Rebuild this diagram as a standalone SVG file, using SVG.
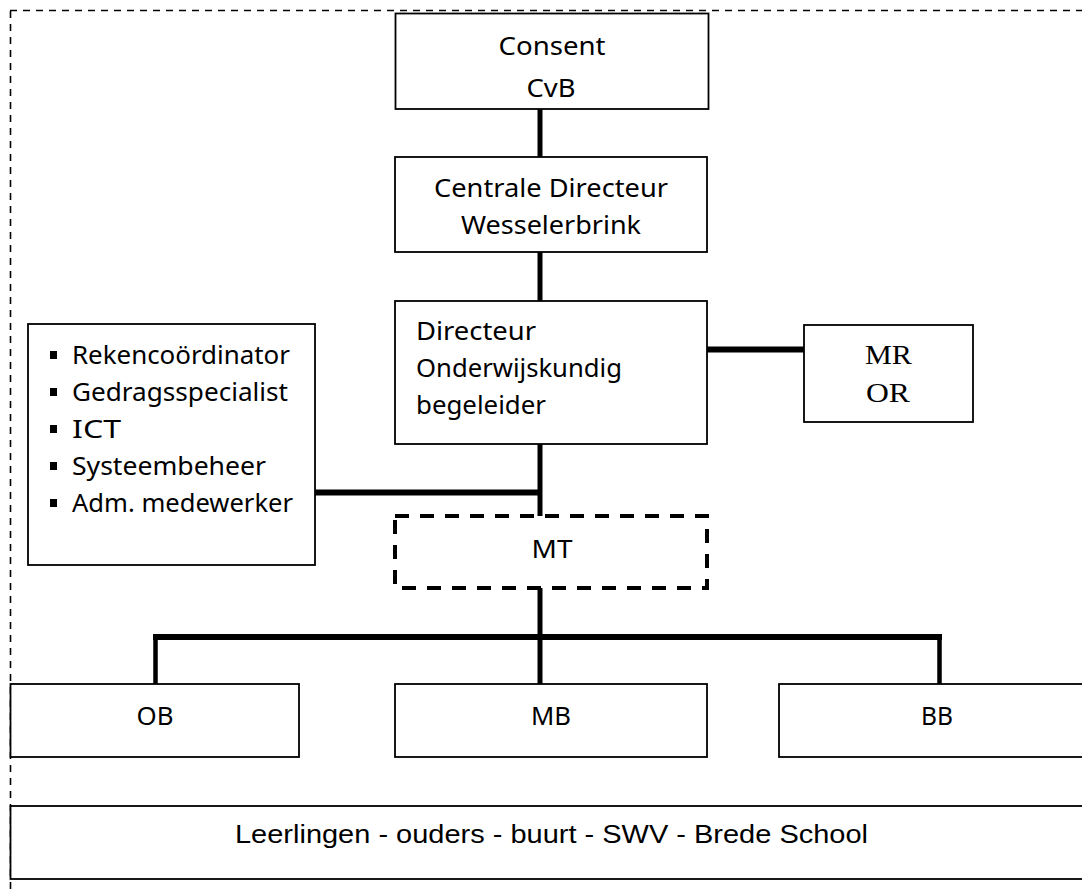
<svg xmlns="http://www.w3.org/2000/svg" width="1082" height="895" viewBox="0 0 1082 895">
<style>
.box{fill:#fff;stroke:#000;stroke-width:1.8}
.mt{fill:#fff;stroke:#000;stroke-width:4;stroke-dasharray:14 11}
.frame{fill:none;stroke:#000;stroke-width:1.6;stroke-dasharray:7 6}
.con{stroke:#000;fill:none}
.c{font-family:"Noto Sans","DejaVu Sans",sans-serif;font-size:26px;fill:#000}
.m{text-anchor:middle}
.s{font-family:"Liberation Serif","Times New Roman",serif;font-size:27px;fill:#000;text-anchor:middle}
.a{font-family:"Liberation Sans",Arial,sans-serif;font-size:26px;fill:#000;text-anchor:middle}
</style>
<rect width="1082" height="895" fill="#fff"/>
<g id="frame">
<line class="frame" x1="10" y1="10.5" x2="1082" y2="10.5"/>
<line class="frame" x1="10.5" y1="11" x2="10.5" y2="895"/>
</g>
<g id="connectors">
<line class="con" stroke-width="5" x1="540" y1="109" x2="540" y2="157"/>
<line class="con" stroke-width="5" x1="540" y1="252" x2="540" y2="301"/>
<line class="con" stroke-width="5" x1="540" y1="444" x2="540" y2="516"/>
<line class="con" stroke-width="6" x1="707" y1="349.5" x2="804" y2="349.5"/>
<line class="con" stroke-width="6" x1="315" y1="492.5" x2="542" y2="492.5"/>
<line class="con" stroke-width="5" x1="540" y1="588" x2="540" y2="684"/>
<line class="con" stroke-width="6" x1="153" y1="637" x2="942" y2="637"/>
<line class="con" stroke-width="4.5" x1="155.5" y1="637" x2="155.5" y2="684"/>
<line class="con" stroke-width="4.5" x1="939.5" y1="637" x2="939.5" y2="684"/>
</g>
<g id="consent">
<rect class="box" x="395.5" y="13.5" width="313" height="95.5"/>
<text class="c m" x="552" y="55" textLength="107" lengthAdjust="spacingAndGlyphs">Consent</text>
<text class="c m" x="551" y="97" textLength="49" lengthAdjust="spacingAndGlyphs">CvB</text>
</g>
<g id="centrale">
<rect class="box" x="395" y="157" width="312" height="95"/>
<text class="c m" x="551" y="197" textLength="234" lengthAdjust="spacingAndGlyphs">Centrale Directeur</text>
<text class="c m" x="551" y="234" textLength="180" lengthAdjust="spacingAndGlyphs">Wesselerbrink</text>
</g>
<g id="directeur">
<rect class="box" x="395" y="301" width="312" height="143"/>
<text class="c" x="416" y="340" textLength="120" lengthAdjust="spacingAndGlyphs">Directeur</text>
<text class="c" x="416" y="377" textLength="206" lengthAdjust="spacingAndGlyphs">Onderwijskundig</text>
<text class="c" x="416" y="414" textLength="130" lengthAdjust="spacingAndGlyphs">begeleider</text>
</g>
<g id="mror">
<rect class="box" x="804" y="325" width="169" height="97"/>
<text class="s" x="888.5" y="364" textLength="47" lengthAdjust="spacingAndGlyphs">MR</text>
<text class="s" x="888" y="402" textLength="44" lengthAdjust="spacingAndGlyphs">OR</text>
</g>
<g id="staf">
<rect class="box" x="28" y="324" width="287" height="241"/>
<rect x="50" y="351" width="7" height="8" fill="#000"/>
<rect x="50" y="388" width="7" height="8" fill="#000"/>
<rect x="50" y="425" width="7" height="8" fill="#000"/>
<rect x="50" y="462" width="7" height="8" fill="#000"/>
<rect x="50" y="499" width="7" height="8" fill="#000"/>
<text class="c" x="72" y="364" textLength="218" lengthAdjust="spacingAndGlyphs">Rekencoördinator</text>
<text class="c" x="72" y="401" textLength="216" lengthAdjust="spacingAndGlyphs">Gedragsspecialist</text>
<text class="c" x="72" y="438" textLength="49" lengthAdjust="spacingAndGlyphs">ICT</text>
<text class="c" x="72" y="475" textLength="194" lengthAdjust="spacingAndGlyphs">Systeembeheer</text>
<text class="c" x="72" y="512" textLength="221" lengthAdjust="spacingAndGlyphs">Adm. medewerker</text>
</g>
<g id="mt">
<rect class="mt" x="395" y="516" width="312" height="72"/>
<text class="c m" x="552" y="558" textLength="41" lengthAdjust="spacingAndGlyphs">MT</text>
</g>
<g id="ob">
<rect class="box" x="10.5" y="684" width="288.5" height="73"/>
<text class="c m" x="155" y="725" textLength="37" lengthAdjust="spacingAndGlyphs">OB</text>
</g>
<g id="mb">
<rect class="box" x="395" y="684" width="312" height="73"/>
<text class="c m" x="551" y="725" textLength="40" lengthAdjust="spacingAndGlyphs">MB</text>
</g>
<g id="bb">
<rect class="box" x="779" y="684" width="320" height="73"/>
<text class="c m" x="937" y="725" textLength="32" lengthAdjust="spacingAndGlyphs">BB</text>
</g>
<g id="omgeving">
<rect class="box" x="10.5" y="806" width="1090" height="73"/>
<text class="a" x="551.5" y="843" textLength="633" lengthAdjust="spacingAndGlyphs">Leerlingen - ouders - buurt - SWV - Brede School</text>
</g>
</svg>
